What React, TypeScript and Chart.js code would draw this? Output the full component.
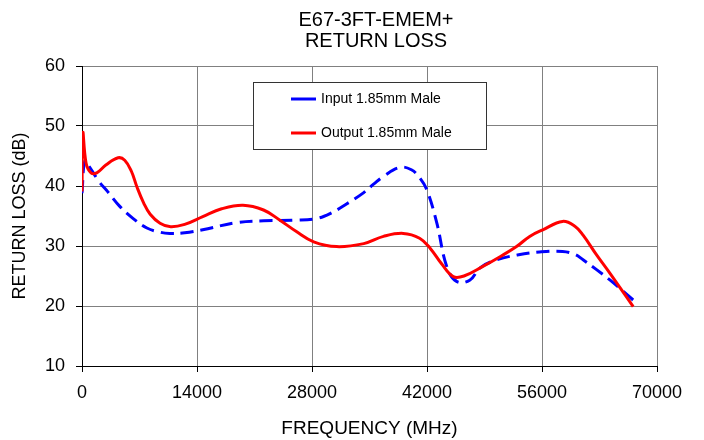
import React, { useEffect, useRef } from "react";
import { Chart, registerables } from "chart.js";

Chart.register(...registerables);

const titleLines = ["E67-3FT-EMEM+", "RETURN LOSS"];
const xAxisTitle = "FREQUENCY (MHz)";
const yAxisTitle = "RETURN LOSS (dB)";
const seriesNames = ["Input 1.85mm Male", "Output 1.85mm Male"];

const inputFreq = [0, 350, 900, 2100, 3100, 4600, 6200, 7900, 9500, 10700, 12500, 14700, 18800, 22100, 26100, 28600, 30200, 32200, 34300, 35500, 36700, 38700, 40100, 41150, 42000, 43200, 44400, 45600, 47200, 48500, 50500, 53000, 55700, 58500, 60000, 61000, 62600, 64300, 67100];
const inputDb = [38.8, 44.2, 43.2, 40.7, 39.1, 36.6, 34.6, 33.0, 32.3, 32.1, 32.2, 32.7, 33.9, 34.2, 34.3, 34.6, 35.4, 37.0, 38.9, 40.3, 41.6, 43.1, 42.7, 41.3, 39.3, 33.8, 26.6, 24.1, 24.3, 26.4, 27.7, 28.5, 29.0, 29.1, 28.6, 27.7, 26.1, 24.3, 21.0];

const outputFreq = [0, 100, 500, 1100, 1800, 2900, 4400, 5200, 6000, 6700, 7500, 8300, 9500, 10800, 12500, 14700, 17000, 19600, 22100, 24100, 26100, 28200, 31000, 34300, 36700, 39100, 41100, 42400, 43800, 45200, 46500, 48800, 51000, 52900, 54500, 56100, 58500, 60000, 61000, 62600, 64300, 67100];
const outputDb = [39.1, 48.9, 43.8, 42.2, 42.2, 43.5, 44.7, 44.3, 42.5, 39.8, 37.2, 35.3, 33.8, 33.2, 33.6, 34.9, 36.2, 36.8, 36.0, 34.3, 32.4, 30.7, 29.9, 30.4, 31.6, 32.1, 31.3, 29.6, 27.0, 24.9, 25.0, 26.6, 28.3, 29.9, 31.6, 32.7, 34.1, 33.3, 31.8, 28.6, 25.4, 19.9];

const xMin = 0, xMax = 70000, xStep = 14000;
const yMin = 10, yMax = 60, yStep = 10;

const FONT = "'Liberation Sans', Arial, sans-serif";

const overlayPlugin = {
  id: "overlay",
  afterDraw(chart: any) {
    const ctx = chart.ctx;
    ctx.save();
    ctx.fillStyle = "#000";
    ctx.font = `20px ${FONT}`;
    ctx.textAlign = "center";
    ctx.textBaseline = "middle";
    ctx.fillText(titleLines[0], 376, 20);
    ctx.fillText(titleLines[1], 376, 41);

    const bx = 253.5, by = 82.5, bw = 233, bh = 67;
    ctx.fillStyle = "#fff";
    ctx.fillRect(bx, by, bw, bh);
    ctx.strokeStyle = "#333";
    ctx.lineWidth = 1;
    ctx.strokeRect(bx, by, bw, bh);
    const rows = [99, 133];
    chart.data.datasets.forEach((ds: any, i: number) => {
      const y = rows[i];
      ctx.strokeStyle = ds.borderColor;
      ctx.lineWidth = 3;
      ctx.setLineDash([]);
      ctx.beginPath();
      ctx.moveTo(291, y);
      ctx.lineTo(316, y);
      ctx.stroke();
      ctx.fillStyle = "#000";
      ctx.font = `14px ${FONT}`;
      ctx.textAlign = "left";
      ctx.textBaseline = "middle";
      ctx.fillText(ds.label, 321, y);
    });
    ctx.restore();
  },
};

export default function App() {
  const ref = useRef<HTMLCanvasElement>(null);
  useEffect(() => {
    if (!ref.current) return;
    const inputPts = inputFreq.map((f, i) => ({ x: f, y: inputDb[i] }));
    const outputPts = outputFreq.map((f, i) => ({ x: f, y: outputDb[i] }));
    const chart = new Chart(ref.current, {
      type: "scatter",
      data: {
        datasets: [
          {
            label: seriesNames[0],
            data: inputPts,
            showLine: true,
            borderColor: "#0000FF",
            backgroundColor: "#0000FF",
            borderWidth: 3,
            borderDash: [13, 7],
            pointRadius: 0,
            tension: 0.4,
            fill: false,
            order: 1,
          },
          {
            label: seriesNames[1],
            data: outputPts,
            showLine: true,
            borderColor: "#FF0000",
            backgroundColor: "#FF0000",
            borderWidth: 3,
            pointRadius: 0,
            tension: 0.4,
            fill: false,
            order: 0,
          },
        ],
      },
      options: {
        responsive: false,
        animation: false,
        layout: { padding: { left: 0, right: 47, top: 66, bottom: 0 } },
        plugins: { legend: { display: false }, title: { display: false }, tooltip: { enabled: false } },
        scales: {
          x: {
            type: "linear",
            min: xMin,
            max: xMax,
            ticks: {
              stepSize: xStep,
              color: "#000",
              font: { family: FONT, size: 18 },
              padding: 10,
              maxRotation: 0,
              autoSkip: false,
              callback: (v: any) => String(v),
            },
            grid: { color: "#808080", tickColor: "#000", tickLength: 6, lineWidth: 1 },
            border: { color: "#000", width: 1 },
            title: {
              display: true,
              text: xAxisTitle,
              color: "#000",
              font: { family: FONT, size: 19 },
              padding: { top: 0, bottom: 0 },
            },
            afterFit: (s: any) => {
              s.height = 74;
            },
          },
          y: {
            type: "linear",
            min: yMin,
            max: yMax,
            ticks: {
              stepSize: yStep,
              color: "#000",
              font: { family: FONT, size: 18 },
              padding: 11,
              callback: (v: any) => String(v),
            },
            grid: { color: "#808080", tickColor: "#000", tickLength: 6, lineWidth: 1 },
            border: { color: "#000", width: 1 },
            title: {
              display: true,
              text: yAxisTitle,
              color: "#000",
              font: { family: FONT, size: 18 },
              padding: { top: 9, bottom: 0 },
            },
            afterFit: (s: any) => {
              s.width = 82;
            },
          },
        },
      },
      plugins: [overlayPlugin],
    } as any);
    return () => chart.destroy();
  }, []);
  return (
    <div style={{ position: "absolute", left: 0, top: 0, width: 704, height: 440, background: "#fff" }}>
      <canvas ref={ref} width={704} height={440} style={{ width: 704, height: 440, display: "block" }} />
    </div>
  );
}
